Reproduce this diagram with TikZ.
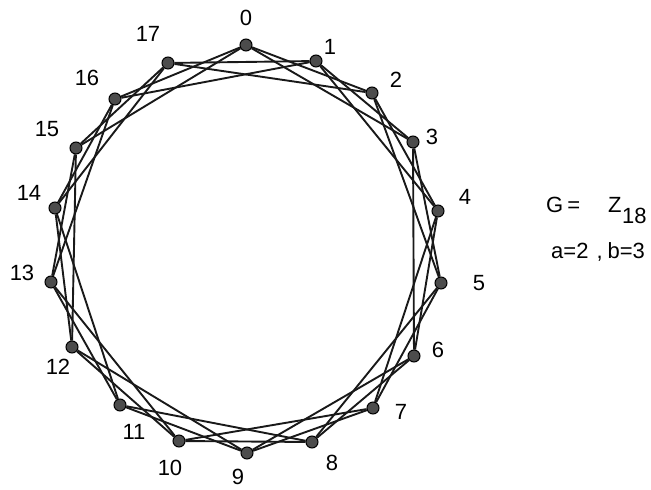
\documentclass[tikz,border=0pt]{standalone}
\usepackage{fontspec}
\setmainfont{Liberation Sans}
\usepackage{tikz}
\usetikzlibrary{positioning}

\begin{document}
\begin{tikzpicture}[
    x=1pt, y=-1pt,
    vtx/.style={circle, draw=black, fill=black!70, line width=1pt, inner sep=0pt, minimum size=12pt},
    lbl/.style={font=\fontsize{22}{24}\selectfont, inner sep=0pt},
    edge/.style={line width=1.9pt, black!90}
]
\useasboundingbox (0,0) rectangle (651,490);
% vertices of the circulant graph
\foreach \i/\x/\y in {0/246/45, 1/316/61, 2/372/93, 3/413/142, 4/438/211, 5/441/283,
    6/414/356, 7/373/408, 8/312/442, 9/247/453, 10/179/441, 11/120/405,
    12/72/347, 13/51/282, 14/55/208, 15/76/148, 16/115/99, 17/168/63}
  \node[vtx] (v\i) at (\x,\y) {};
% vertex numbers
\foreach \i/\x/\y in {0/246/18, 1/330/47, 2/396/80, 3/432/137, 4/465/197, 5/479/283,
    6/438/350, 7/401/412, 8/332/463, 9/238/477, 10/170/468, 11/134/432,
    12/58/367, 13/22/273, 14/29/193, 15/47/129, 16/87/78, 17/148/34}
  \node[lbl] (l\i) at (\x,\y) {\i};
% edges i -- i+a and i -- i+b
\foreach \i in {0,...,17} {
  \pgfmathtruncatemacro\ja{mod(\i+2,18)}
  \pgfmathtruncatemacro\jb{mod(\i+3,18)}
  \draw[edge] (v\i) -- (v\ja);
  \draw[edge] (v\i) -- (v\jb);
}
% group and parameters
\node[lbl, anchor=west] (grp) at (546,210) {G\hspace{4pt}=\hspace{28pt}Z\raisebox{-11pt}{\kern0.5pt18}};
\node[lbl, anchor=west] (par) at (551,252) {a=2\hspace{8pt},\hspace{5pt}b=3};
\end{tikzpicture}
\end{document}
